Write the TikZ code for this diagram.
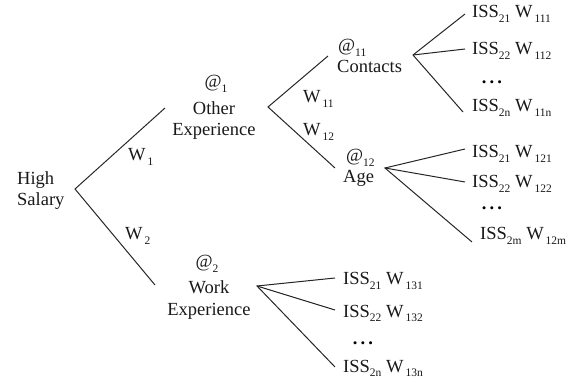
\documentclass[tikz,border=0pt]{standalone}
\usepackage{fontspec}
\setmainfont{Liberation Serif}
\newcommand\sbx[1]{\raisebox{-4.5pt}{\fontsize{11.5}{11.5}\selectfont #1}}
\newcommand\wsb[1]{W\kern2pt\sbx{#1}}
\begin{document}
\begin{tikzpicture}[x=1pt,y=-1pt,
  lbl/.style={inner sep=0pt,font=\fontsize{18.5}{21}\selectfont,text=black!90},
  edge/.style={draw=black!85,line width=1pt},
  dotsn/.style={inner sep=0pt,font=\fontsize{18.5}{21}\selectfont\bfseries}]
\useasboundingbox (0,0) rectangle (570,379);
% nodes (base anchor of a two-line node = baseline of its last line)
\node[lbl,anchor=base west,align=left] (root) at (17,206) {High\\Salary};
\node[lbl,anchor=base] (at1) at (216,88) {@\sbx{1}};
\node[lbl,anchor=base,align=center] (oe) at (214,136) {Other\\Experience};
\node[lbl,anchor=base west] (w1) at (128,161) {\wsb{1}};
\node[lbl,anchor=base west] (w2) at (125,240) {\wsb{2}};
\node[lbl,anchor=base] (at2) at (207,268) {@\sbx{2}};
\node[lbl,anchor=base,align=center] (we) at (209,315) {Work\\Experience};
\node[lbl,anchor=base west] (w11) at (303,103) {\wsb{11}};
\node[lbl,anchor=base west] (w12) at (303,136) {\wsb{12}};
\node[lbl,anchor=base west] (at11) at (338,52) {@\sbx{11}};
\node[lbl,anchor=base west] (con) at (337,73) {Contacts};
\node[lbl,anchor=base west] (at12) at (346,162) {@\sbx{12}};
\node[lbl,anchor=base west] (age) at (343,183) {Age};
% contacts leaves
\node[lbl,anchor=base west] (c1) at (472,18) {ISS\sbx{21} \wsb{111}};
\node[lbl,anchor=base west] (c2) at (472,55) {ISS\sbx{22} \wsb{112}};
\node[dotsn,anchor=base] (cd) at (492,84) {.\,.\,.};
\node[lbl,anchor=base west] (c3) at (472,112) {ISS\sbx{2n} \wsb{11n}};
% age leaves
\node[lbl,anchor=base west] (g1) at (472,158) {ISS\sbx{21} \wsb{121}};
\node[lbl,anchor=base west] (g2) at (472,188) {ISS\sbx{22} \wsb{122}};
\node[dotsn,anchor=base] (gd) at (492,210) {.\,.\,.};
\node[lbl,anchor=base west] (g3) at (480,240) {ISS\sbx{2m} \wsb{12m}};
% work leaves
\node[lbl,anchor=base west] (k1) at (343,285) {ISS\sbx{21} \wsb{131}};
\node[lbl,anchor=base west] (k2) at (343,317) {ISS\sbx{22} \wsb{132}};
\node[dotsn,anchor=base] (kd) at (363,344) {.\,.\,.};
\node[lbl,anchor=base west] (k3) at (343,372) {ISS\sbx{2n} \wsb{13n}};
% branch points and ends
\coordinate (r0) at (75,189);
\coordinate (r0a) at (165,108);
\coordinate (r0b) at (155,285);
\coordinate (a1) at (268,107);
\coordinate (a1a) at (328,56);
\coordinate (a1b) at (335,168);
\coordinate (cc) at (413,55);
\coordinate (cc1) at (465,14);
\coordinate (cc2) at (465,49);
\coordinate (cc3) at (463,112);
\coordinate (gg) at (385,168);
\coordinate (gg1) at (465,149);
\coordinate (gg2) at (465,182);
\coordinate (gg3) at (472,242);
\coordinate (ww) at (257,286);
\coordinate (ww1) at (335,278);
\coordinate (ww2) at (335,310);
\coordinate (ww3) at (335,367);
% connectors
\draw[edge] (r0a) -- (r0) -- (r0b);
\draw[edge] (a1a) -- (a1) -- (a1b);
\draw[edge] (cc1) -- (cc) -- (cc3);
\draw[edge] (cc) -- (cc2);
\draw[edge] (gg1) -- (gg) -- (gg3);
\draw[edge] (gg) -- (gg2);
\draw[edge] (ww1) -- (ww) -- (ww3);
\draw[edge] (ww) -- (ww2);
\end{tikzpicture}
\end{document}
